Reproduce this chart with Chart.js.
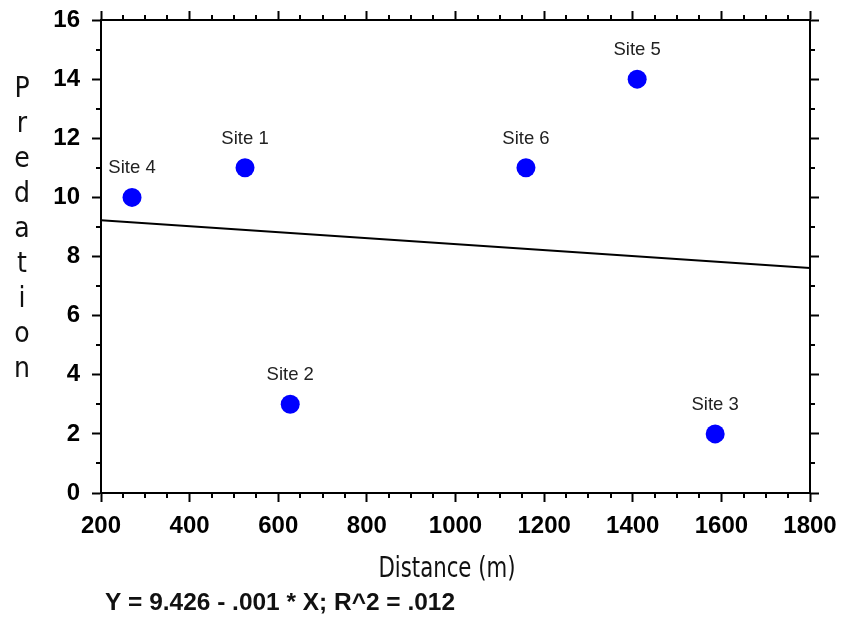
<!DOCTYPE html>
<html>
<head>
<meta charset="utf-8">
<script src="https://cdn.jsdelivr.net/npm/chart.js@4/dist/chart.umd.min.js"></script>
<style>
  html, body { margin: 0; padding: 0; background: #fff; }
  #wrap { width: 844px; height: 618px; }
</style>
</head>
<body>
<div id="wrap"><canvas id="myChart" width="844" height="618"></canvas></div>
<script>
// data
const siteNames = ['Site 4', 'Site 1', 'Site 2', 'Site 6', 'Site 5', 'Site 3'];
const distance  = [270, 525, 627, 1159, 1410, 1586];
const predation = [10, 11, 3, 11, 14, 2];

// fitted line end points
const fitX = [200, 1800];
const fitY = [9.23, 7.61];

const yTitle = 'Predation';
const xTitle = 'Distance (m)';
const equation = 'Y = 9.426 - .001 * X; R^2 = .012';

const pts = distance.map((d, i) => ({ x: d, y: predation[i] }));
const fit = fitX.map((d, i) => ({ x: d, y: fitY[i] }));

const tickFont = { family: 'Liberation Sans, Arial, sans-serif', size: 24, weight: 'bold' };

const axisGrid = {
  drawOnChartArea: false,
  tickLength: 9,
  tickWidth: 2,
  tickColor: '#000'
};
const axisBorder = { color: '#000', width: 2 };

// pin scale sizes so the plot box lands where it is in the picture
const fixSize = (w, h) => s => {
  if (w != null) s.width = w;
  if (h != null) s.height = h;
  s.paddingLeft = s.paddingRight = s.paddingTop = s.paddingBottom = 0;
};

// minor ticks + labels + titles
const extras = {
  id: 'extras',
  afterDraw(chart) {
    const ctx = chart.ctx;
    const xs = chart.scales.x, ys = chart.scales.y;
    const a = chart.chartArea;
    ctx.save();
    ctx.strokeStyle = '#000';
    ctx.lineWidth = 2;
    ctx.beginPath();
    for (let v = 250; v < 1800; v += 50) {
      if (v % 200 === 0) continue;
      const px = Math.round(xs.getPixelForValue(v));
      ctx.moveTo(px, a.bottom); ctx.lineTo(px, a.bottom + 5);
      ctx.moveTo(px, a.top); ctx.lineTo(px, a.top - 5);
    }
    for (let v = 1; v < 16; v += 2) {
      const py = Math.round(ys.getPixelForValue(v));
      ctx.moveTo(a.left, py); ctx.lineTo(a.left - 5, py);
      ctx.moveTo(a.right, py); ctx.lineTo(a.right + 5, py);
    }
    ctx.stroke();

    // site labels
    ctx.fillStyle = '#222';
    ctx.font = '18.5px Liberation Sans, Arial, sans-serif';
    ctx.textAlign = 'center';
    ctx.textBaseline = 'middle';
    const meta = chart.getDatasetMeta(0);
    meta.data.forEach((el, i) => {
      ctx.fillText(siteNames[i], el.x, el.y - 29);
    });

    // y title, one letter per line
    ctx.fillStyle = '#111';
    ctx.font = '28px DejaVu Sans Condensed, sans-serif';
    yTitle.split('').forEach((ch, i) => {
      ctx.fillText(ch, 22, 90 + i * 35);
    });

    // x title, narrow
    ctx.save();
    ctx.font = '28px DejaVu Sans Condensed, sans-serif';
    const w = ctx.measureText(xTitle).width;
    ctx.translate(447, 570);
    ctx.scale(137 / w, 1);
    ctx.fillText(xTitle, 0, 0);
    ctx.restore();

    // equation
    ctx.save();
    ctx.font = 'bold 23px Liberation Sans, Arial, sans-serif';
    ctx.textAlign = 'left';
    const we = ctx.measureText(equation).width;
    ctx.translate(105, 604);
    ctx.scale(350 / we, 1);
    ctx.fillText(equation, 0, 0);
    ctx.restore();

    ctx.restore();
  }
};

new Chart(document.getElementById('myChart'), {
  type: 'scatter',
  data: {
    datasets: [{
      data: pts,
      pointRadius: 9.5,
      pointHoverRadius: 9.5,
      backgroundColor: '#0000ff',
      borderWidth: 0
    }, {
      type: 'line',
      data: fit,
      borderColor: '#000',
      borderWidth: 2,
      pointRadius: 0,
      fill: false
    }]
  },
  options: {
    responsive: false,
    animation: false,
    layout: { padding: 0 },
    plugins: { legend: { display: false }, tooltip: { enabled: false } },
    scales: {
      x: {
        type: 'linear', position: 'bottom', min: 200, max: 1800,
        ticks: { stepSize: 200, color: '#000', font: tickFont, padding: 10, maxRotation: 0,
                 callback: v => String(v) },
        grid: axisGrid, border: axisBorder,
        afterFit: fixSize(null, 125)
      },
      x2: {
        type: 'linear', position: 'top', min: 200, max: 1800,
        ticks: { stepSize: 200, display: false },
        grid: axisGrid, border: axisBorder,
        afterFit: fixSize(null, 20)
      },
      y: {
        type: 'linear', position: 'left', min: 0, max: 16,
        ticks: { stepSize: 2, color: '#000', font: tickFont, padding: 12,
                 callback: v => String(v) },
        grid: axisGrid, border: axisBorder,
        afterFit: fixSize(101, null)
      },
      y2: {
        type: 'linear', position: 'right', min: 0, max: 16,
        ticks: { stepSize: 2, display: false },
        grid: axisGrid, border: axisBorder,
        afterFit: fixSize(34, null)
      }
    }
  },
  plugins: [extras]
});
</script>
</body>
</html>
